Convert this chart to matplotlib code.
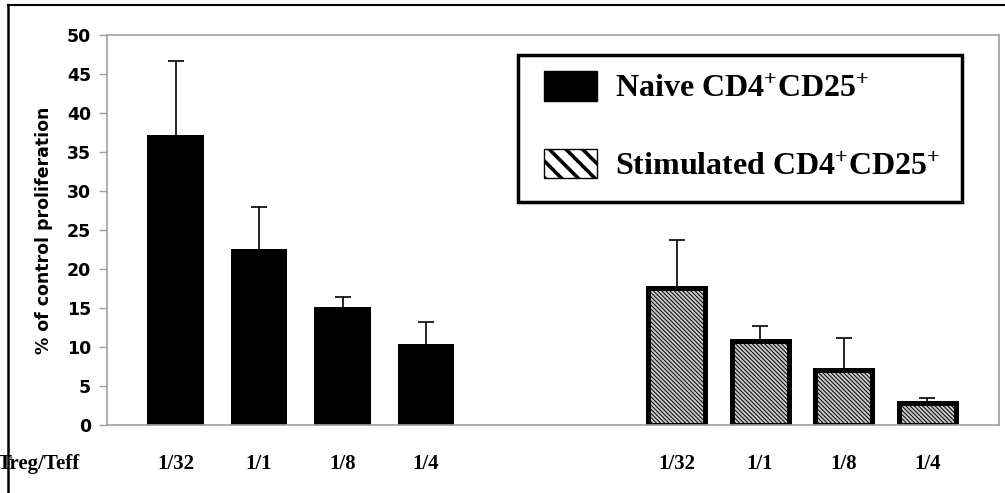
import numpy as np
import matplotlib
matplotlib.use("Agg")
import matplotlib.pyplot as plt
from matplotlib.patches import Patch, Rectangle
from matplotlib.lines import Line2D

# -------------------------------
# Data
# -------------------------------
ratios = ["1/32", "1/1", "1/8", "1/4"]
naive_vals = [37.2, 22.5, 15.1, 10.4]
naive_err = [9.5, 5.5, 1.3, 2.8]
stim_vals = [17.6, 10.8, 7.0, 2.8]
stim_err = [6.1, 1.9, 4.2, 0.7]

naive_pos = np.arange(4)
stim_pos = np.arange(4) + 6

plt.rcParams["mathtext.fontset"] = "custom"
plt.rcParams["mathtext.rm"] = "Liberation Serif:bold"
plt.rcParams["mathtext.bf"] = "Liberation Serif:bold"
plt.rcParams["mathtext.it"] = "Liberation Serif:bold"
plt.rcParams["hatch.linewidth"] = 0.7

serif_bold = dict(family="Liberation Serif", weight="bold")
grey = "#a0a0a0"
W, H = 1005, 493

fig = plt.figure(figsize=(10.05, 4.93), dpi=100)
ax = fig.add_axes([0.1065, 0.138, 0.8875, 0.791])


def up_errors(x, y, err):
    # only the upper half of the error bar, like the original
    eb = ax.errorbar(x, y, yerr=[np.zeros(len(err)), err], fmt="none",
                     ecolor="black", elinewidth=1.2, capsize=5.5, capthick=1.2, zorder=1)
    eb[1][0].set_visible(False)


# -------------------------------
# Bars + upward error bars
# -------------------------------
ax.bar(naive_pos, naive_vals, width=0.68, color="black", zorder=2)
up_errors(naive_pos, naive_vals, naive_err)

ax.bar(stim_pos, stim_vals, width=0.68, facecolor="#c8c8c8", edgecolor="black",
       linewidth=3.6, hatch="\\\\\\\\\\\\\\\\", zorder=2)
up_errors(stim_pos, stim_vals, stim_err)

ax.set_xlim(-0.82, 9.86)
ax.set_ylim(0, 50)
ax.set_yticks(range(0, 51, 5))
for lbl in ax.get_yticklabels():
    lbl.set_fontweight("bold")
    lbl.set_fontsize(12.5)
ax.tick_params(axis="y", length=5.5, width=1, color=grey, pad=6)

ax.set_xticks(list(naive_pos) + list(stim_pos))
ax.set_xticklabels(ratios + ratios, fontsize=15, **serif_bold)
ax.tick_params(axis="x", length=0, pad=21)

for sp in ax.spines.values():
    sp.set_color(grey)
    sp.set_linewidth(1.2)

ax.set_ylabel("% of control proliferation", fontsize=12.5, fontweight="bold")
ax.yaxis.set_label_coords(-0.061, 0.5)

fig.text(-0.002, 1 - 464 / H, "Treg/Teff", fontsize=15, ha="left", va="center", **serif_bold)

# -------------------------------
# Legend (box drawn separately); swatch hatch needs thick stripes
# -------------------------------
labels = ["Naive CD4$^{+}$CD25$^{+}$", "Stimulated CD4$^{+}$CD25$^{+}$"]
with plt.rc_context({"hatch.linewidth": 2.6}):
    handles = [
        Patch(facecolor="black", edgecolor="black"),
        Patch(facecolor="white", edgecolor="black", hatch="\\\\", linewidth=1),
    ]
    leg = ax.legend(handles, labels, loc="center left",
                    bbox_to_anchor=(544 / W, 1 - 126.5 / H), bbox_transform=fig.transFigure,
                    prop=dict(family="Liberation Serif", weight="bold", size=23),
                    handlelength=1.66, handleheight=1.03, handletextpad=0.56,
                    labelspacing=1.42, borderpad=0, borderaxespad=0, frameon=False)
for h in leg.legend_handles:
    if hasattr(h, "set_hatch_linewidth"):
        h.set_hatch_linewidth(2.6)

fig.add_artist(Rectangle((518 / W, 1 - 202 / H), 444 / W, 147 / H,
                         transform=fig.transFigure, fill=False, ec="black", lw=2.5))

# -------------------------------
# Outer frame (top + left only)
# -------------------------------
fig.add_artist(Line2D([8 / W, 1.0], [1 - 5 / H, 1 - 5 / H], color="black", lw=1.5))
fig.add_artist(Line2D([8 / W, 8 / W], [0, 1 - 5 / H], color="black", lw=1.8))

fig.savefig("out.png", dpi=100)
